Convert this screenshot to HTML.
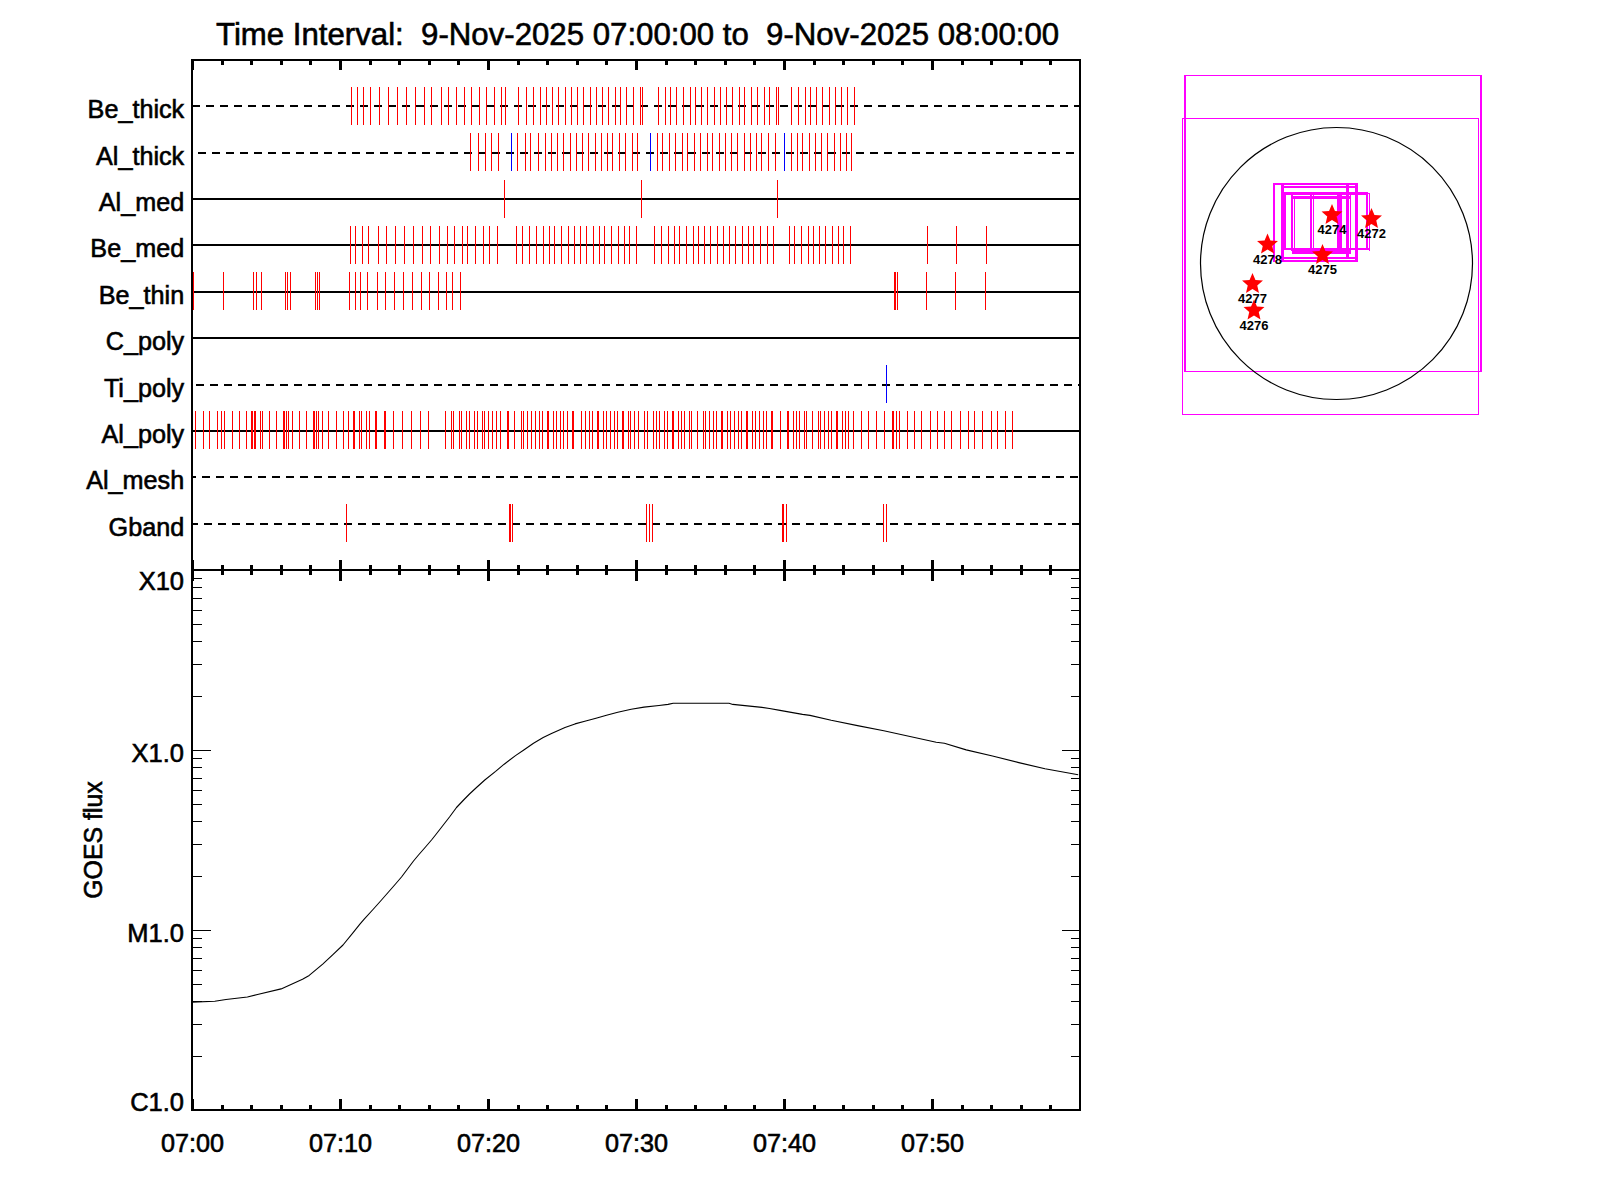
<!DOCTYPE html>
<html><head><meta charset="utf-8"><style>
html,body{margin:0;padding:0;background:#fff;}
svg{display:block;font-family:"Liberation Sans",sans-serif;}
</style></head><body>
<svg width="1600" height="1200" viewBox="0 0 1600 1200">
<rect width="1600" height="1200" fill="#fff"/>
<text x="216" y="45" font-size="31.2" xml:space="preserve" stroke="#000" stroke-width="0.6">Time Interval:  9-Nov-2025 07:00:00 to  9-Nov-2025 08:00:00</text>
<text x="184.2" y="117.6" font-size="25.2" text-anchor="end" stroke="#000" stroke-width="0.6">Be_thick</text>
<line x1="192" y1="106" x2="1080" y2="106" stroke="#000" stroke-width="2" stroke-dasharray="8 6" stroke-dashoffset="0" shape-rendering="crispEdges"/>
<path d="M351.5 87v38 M357.5 87v38 M363.5 87v38 M370.5 87v38 M379.5 87v38 M388.5 87v38 M397.5 87v38 M406.5 87v38 M415.5 87v38 M424.5 87v38 M431.5 87v38 M441.5 87v38 M448.5 87v38 M456.5 87v38 M464.5 87v38 M471.5 87v38 M479.5 87v38 M486.5 87v38 M494.5 87v38 M501.5 87v38 M505.5 87v38 M518.5 87v38 M526.5 87v38 M533.5 87v38 M540.5 87v38 M546.5 87v38 M552.5 87v38 M558.5 87v38 M565.5 87v38 M571.5 87v38 M577.5 87v38 M583.5 87v38 M590.5 87v38 M596.5 87v38 M602.5 87v38 M608.5 87v38 M615.5 87v38 M620.5 87v38 M626.5 87v38 M633.5 87v38 M640.5 87v38 M642.5 87v38 M658.5 87v38 M665.5 87v38 M670.5 87v38 M676.5 87v38 M683.5 87v38 M690.5 87v38 M695.5 87v38 M701.5 87v38 M707.5 87v38 M714.5 87v38 M720.5 87v38 M726.5 87v38 M732.5 87v38 M739.5 87v38 M744.5 87v38 M751.5 87v38 M757.5 87v38 M764.5 87v38 M769.5 87v38 M776.5 87v38 M778.5 87v38 M791.5 87v38 M798.5 87v38 M805.5 87v38 M810.5 87v38 M816.5 87v38 M822.5 87v38 M829.5 87v38 M835.5 87v38 M841.5 87v38 M847.5 87v38 M854.5 87v38" stroke="#f00" stroke-width="1" shape-rendering="crispEdges"/>
<text x="184.2" y="164.6" font-size="25.2" text-anchor="end" stroke="#000" stroke-width="0.6">Al_thick</text>
<line x1="192" y1="153" x2="1080" y2="153" stroke="#000" stroke-width="2" stroke-dasharray="8 6" stroke-dashoffset="8" shape-rendering="crispEdges"/>
<path d="M470.5 133v38 M478.5 133v38 M485.5 133v38 M491.5 133v38 M498.5 133v38 M517.5 133v38 M525.5 133v38 M530.5 133v38 M538.5 133v38 M545.5 133v38 M551.5 133v38 M557.5 133v38 M563.5 133v38 M570.5 133v38 M576.5 133v38 M582.5 133v38 M588.5 133v38 M595.5 133v38 M601.5 133v38 M607.5 133v38 M612.5 133v38 M619.5 133v38 M625.5 133v38 M632.5 133v38 M637.5 133v38 M657.5 133v38 M662.5 133v38 M669.5 133v38 M675.5 133v38 M682.5 133v38 M687.5 133v38 M694.5 133v38 M700.5 133v38 M707.5 133v38 M712.5 133v38 M719.5 133v38 M725.5 133v38 M731.5 133v38 M737.5 133v38 M744.5 133v38 M750.5 133v38 M756.5 133v38 M761.5 133v38 M768.5 133v38 M775.5 133v38 M791.5 133v38 M797.5 133v38 M802.5 133v38 M809.5 133v38 M815.5 133v38 M821.5 133v38 M827.5 133v38 M834.5 133v38 M840.5 133v38 M846.5 133v38 M851.5 133v38" stroke="#f00" stroke-width="1" shape-rendering="crispEdges"/>
<path d="M511.5 133v38 M650.5 133v38 M784.5 133v38" stroke="#00f" stroke-width="1" shape-rendering="crispEdges"/>
<text x="184.2" y="210.6" font-size="25.2" text-anchor="end" stroke="#000" stroke-width="0.6">Al_med</text>
<line x1="192" y1="199" x2="1080" y2="199" stroke="#000" stroke-width="2" shape-rendering="crispEdges"/>
<path d="M504.5 180v38 M641.5 180v38 M777.5 180v38" stroke="#f00" stroke-width="1" shape-rendering="crispEdges"/>
<text x="184.2" y="256.6" font-size="25.2" text-anchor="end" stroke="#000" stroke-width="0.6">Be_med</text>
<line x1="192" y1="245" x2="1080" y2="245" stroke="#000" stroke-width="2" shape-rendering="crispEdges"/>
<path d="M350.5 226v38 M355.5 226v38 M362.5 226v38 M368.5 226v38 M378.5 226v38 M386.5 226v38 M395.5 226v38 M404.5 226v38 M413.5 226v38 M422.5 226v38 M430.5 226v38 M439.5 226v38 M447.5 226v38 M454.5 226v38 M462.5 226v38 M467.5 226v38 M475.5 226v38 M483.5 226v38 M489.5 226v38 M497.5 226v38 M516.5 226v38 M522.5 226v38 M529.5 226v38 M536.5 226v38 M543.5 226v38 M549.5 226v38 M554.5 226v38 M561.5 226v38 M568.5 226v38 M574.5 226v38 M580.5 226v38 M586.5 226v38 M593.5 226v38 M599.5 226v38 M604.5 226v38 M611.5 226v38 M618.5 226v38 M624.5 226v38 M629.5 226v38 M636.5 226v38 M654.5 226v38 M661.5 226v38 M668.5 226v38 M674.5 226v38 M679.5 226v38 M686.5 226v38 M693.5 226v38 M698.5 226v38 M704.5 226v38 M710.5 226v38 M717.5 226v38 M723.5 226v38 M729.5 226v38 M735.5 226v38 M742.5 226v38 M748.5 226v38 M753.5 226v38 M760.5 226v38 M767.5 226v38 M773.5 226v38 M789.5 226v38 M794.5 226v38 M801.5 226v38 M808.5 226v38 M813.5 226v38 M819.5 226v38 M825.5 226v38 M832.5 226v38 M838.5 226v38 M843.5 226v38 M850.5 226v38 M927.5 226v38 M956.5 226v38 M986.5 226v38" stroke="#f00" stroke-width="1" shape-rendering="crispEdges"/>
<text x="184.2" y="303.6" font-size="25.2" text-anchor="end" stroke="#000" stroke-width="0.6">Be_thin</text>
<line x1="192" y1="292" x2="1080" y2="292" stroke="#000" stroke-width="2" shape-rendering="crispEdges"/>
<path d="M193.5 272v38 M223.5 272v38 M253.5 272v38 M256.5 272v38 M261.5 272v38 M285.5 272v38 M287.5 272v38 M290.5 272v38 M315.5 272v38 M317.5 272v38 M319.5 272v38 M349.5 272v38 M355.5 272v38 M360.5 272v38 M367.5 272v38 M377.5 272v38 M385.5 272v38 M394.5 272v38 M403.5 272v38 M412.5 272v38 M421.5 272v38 M429.5 272v38 M438.5 272v38 M446.5 272v38 M452.5 272v38 M460.5 272v38 M894.5 272v38 M895.5 272v38 M897.5 272v38 M926.5 272v38 M955.5 272v38 M985.5 272v38" stroke="#f00" stroke-width="1" shape-rendering="crispEdges"/>
<text x="184.2" y="349.6" font-size="25.2" text-anchor="end" stroke="#000" stroke-width="0.6">C_poly</text>
<line x1="192" y1="338" x2="1080" y2="338" stroke="#000" stroke-width="2" shape-rendering="crispEdges"/>
<text x="184.2" y="396.6" font-size="25.2" text-anchor="end" stroke="#000" stroke-width="0.6">Ti_poly</text>
<line x1="192" y1="385" x2="1080" y2="385" stroke="#000" stroke-width="2" stroke-dasharray="8 6" stroke-dashoffset="10" shape-rendering="crispEdges"/>
<path d="M886.5 365v38" stroke="#00f" stroke-width="1" shape-rendering="crispEdges"/>
<text x="184.2" y="442.6" font-size="25.2" text-anchor="end" stroke="#000" stroke-width="0.6">Al_poly</text>
<line x1="192" y1="431" x2="1080" y2="431" stroke="#000" stroke-width="2" shape-rendering="crispEdges"/>
<path d="M195.5 411v38 M203.5 411v38 M209.5 411v38 M217.5 411v38 M221.5 411v38 M224.5 411v38 M232.5 411v38 M239.5 411v38 M246.5 411v38 M251.5 411v38 M252.5 411v38 M254.5 411v38 M255.5 411v38 M260.5 411v38 M262.5 411v38 M269.5 411v38 M276.5 411v38 M283.5 411v38 M284.5 411v38 M286.5 411v38 M288.5 411v38 M292.5 411v38 M299.5 411v38 M306.5 411v38 M313.5 411v38 M314.5 411v38 M316.5 411v38 M318.5 411v38 M322.5 411v38 M328.5 411v38 M336.5 411v38 M343.5 411v38 M348.5 411v38 M353.5 411v38 M354.5 411v38 M359.5 411v38 M361.5 411v38 M366.5 411v38 M369.5 411v38 M375.5 411v38 M376.5 411v38 M384.5 411v38 M385.5 411v38 M393.5 411v38 M402.5 411v38 M411.5 411v38 M420.5 411v38 M428.5 411v38 M445.5 411v38 M451.5 411v38 M453.5 411v38 M459.5 411v38 M461.5 411v38 M466.5 411v38 M469.5 411v38 M474.5 411v38 M477.5 411v38 M482.5 411v38 M484.5 411v38 M488.5 411v38 M492.5 411v38 M496.5 411v38 M500.5 411v38 M507.5 411v38 M508.5 411v38 M514.5 411v38 M521.5 411v38 M523.5 411v38 M527.5 411v38 M531.5 411v38 M535.5 411v38 M539.5 411v38 M542.5 411v38 M547.5 411v38 M548.5 411v38 M553.5 411v38 M556.5 411v38 M560.5 411v38 M563.5 411v38 M567.5 411v38 M572.5 411v38 M573.5 411v38 M581.5 411v38 M585.5 411v38 M589.5 411v38 M592.5 411v38 M597.5 411v38 M598.5 411v38 M603.5 411v38 M606.5 411v38 M610.5 411v38 M614.5 411v38 M617.5 411v38 M622.5 411v38 M623.5 411v38 M628.5 411v38 M630.5 411v38 M634.5 411v38 M638.5 411v38 M644.5 411v38 M647.5 411v38 M653.5 411v38 M656.5 411v38 M659.5 411v38 M664.5 411v38 M667.5 411v38 M672.5 411v38 M673.5 411v38 M678.5 411v38 M681.5 411v38 M684.5 411v38 M689.5 411v38 M691.5 411v38 M697.5 411v38 M703.5 411v38 M705.5 411v38 M709.5 411v38 M713.5 411v38 M716.5 411v38 M721.5 411v38 M722.5 411v38 M727.5 411v38 M730.5 411v38 M734.5 411v38 M738.5 411v38 M741.5 411v38 M746.5 411v38 M747.5 411v38 M752.5 411v38 M755.5 411v38 M759.5 411v38 M763.5 411v38 M766.5 411v38 M771.5 411v38 M772.5 411v38 M780.5 411v38 M787.5 411v38 M788.5 411v38 M793.5 411v38 M796.5 411v38 M799.5 411v38 M804.5 411v38 M806.5 411v38 M812.5 411v38 M818.5 411v38 M820.5 411v38 M824.5 411v38 M828.5 411v38 M831.5 411v38 M836.5 411v38 M837.5 411v38 M842.5 411v38 M845.5 411v38 M848.5 411v38 M853.5 411v38 M861.5 411v38 M868.5 411v38 M876.5 411v38 M884.5 411v38 M892.5 411v38 M893.5 411v38 M896.5 411v38 M899.5 411v38 M907.5 411v38 M914.5 411v38 M921.5 411v38 M930.5 411v38 M937.5 411v38 M944.5 411v38 M951.5 411v38 M960.5 411v38 M968.5 411v38 M974.5 411v38 M982.5 411v38 M991.5 411v38 M997.5 411v38 M1005.5 411v38 M1012.5 411v38" stroke="#f00" stroke-width="1" shape-rendering="crispEdges"/>
<text x="184.2" y="488.6" font-size="25.2" text-anchor="end" stroke="#000" stroke-width="0.6">Al_mesh</text>
<line x1="192" y1="477" x2="1080" y2="477" stroke="#000" stroke-width="2" stroke-dasharray="8 6" stroke-dashoffset="4" shape-rendering="crispEdges"/>
<text x="184.2" y="535.6" font-size="25.2" text-anchor="end" stroke="#000" stroke-width="0.6">Gband</text>
<line x1="192" y1="524" x2="1080" y2="524" stroke="#000" stroke-width="2" stroke-dasharray="8 6" stroke-dashoffset="2" shape-rendering="crispEdges"/>
<path d="M346.5 504v38 M509.5 504v38 M510.5 504v38 M512.5 504v38 M646.5 504v38 M649.5 504v38 M652.5 504v38 M782.5 504v38 M783.5 504v38 M786.5 504v38 M883.5 504v38 M886.5 504v38" stroke="#f00" stroke-width="1" shape-rendering="crispEdges"/>
<g shape-rendering="crispEdges" stroke="#000" stroke-width="2" fill="none">
<rect x="192" y="60" width="888" height="1050"/>
<line x1="192" y1="570" x2="1080" y2="570"/>
</g>
<g fill="#000" shape-rendering="crispEdges">
<rect x="192" y="59" width="2" height="11"/><rect x="192" y="560" width="2" height="21"/><rect x="192" y="1099" width="2" height="12"/>
<rect x="221" y="59" width="3" height="6"/><rect x="221" y="565" width="3" height="10"/><rect x="221" y="1105" width="3" height="6"/>
<rect x="250" y="59" width="3" height="6"/><rect x="250" y="565" width="3" height="10"/><rect x="250" y="1105" width="3" height="6"/>
<rect x="280" y="59" width="3" height="6"/><rect x="280" y="565" width="3" height="10"/><rect x="280" y="1105" width="3" height="6"/>
<rect x="309" y="59" width="3" height="6"/><rect x="309" y="565" width="3" height="10"/><rect x="309" y="1105" width="3" height="6"/>
<rect x="339" y="59" width="3" height="11"/><rect x="339" y="560" width="3" height="21"/><rect x="339" y="1099" width="3" height="12"/>
<rect x="369" y="59" width="3" height="6"/><rect x="369" y="565" width="3" height="10"/><rect x="369" y="1105" width="3" height="6"/>
<rect x="398" y="59" width="3" height="6"/><rect x="398" y="565" width="3" height="10"/><rect x="398" y="1105" width="3" height="6"/>
<rect x="428" y="59" width="3" height="6"/><rect x="428" y="565" width="3" height="10"/><rect x="428" y="1105" width="3" height="6"/>
<rect x="457" y="59" width="3" height="6"/><rect x="457" y="565" width="3" height="10"/><rect x="457" y="1105" width="3" height="6"/>
<rect x="487" y="59" width="3" height="11"/><rect x="487" y="560" width="3" height="21"/><rect x="487" y="1099" width="3" height="12"/>
<rect x="517" y="59" width="3" height="6"/><rect x="517" y="565" width="3" height="10"/><rect x="517" y="1105" width="3" height="6"/>
<rect x="546" y="59" width="3" height="6"/><rect x="546" y="565" width="3" height="10"/><rect x="546" y="1105" width="3" height="6"/>
<rect x="576" y="59" width="3" height="6"/><rect x="576" y="565" width="3" height="10"/><rect x="576" y="1105" width="3" height="6"/>
<rect x="605" y="59" width="3" height="6"/><rect x="605" y="565" width="3" height="10"/><rect x="605" y="1105" width="3" height="6"/>
<rect x="635" y="59" width="3" height="11"/><rect x="635" y="560" width="3" height="21"/><rect x="635" y="1099" width="3" height="12"/>
<rect x="665" y="59" width="3" height="6"/><rect x="665" y="565" width="3" height="10"/><rect x="665" y="1105" width="3" height="6"/>
<rect x="694" y="59" width="3" height="6"/><rect x="694" y="565" width="3" height="10"/><rect x="694" y="1105" width="3" height="6"/>
<rect x="724" y="59" width="3" height="6"/><rect x="724" y="565" width="3" height="10"/><rect x="724" y="1105" width="3" height="6"/>
<rect x="753" y="59" width="3" height="6"/><rect x="753" y="565" width="3" height="10"/><rect x="753" y="1105" width="3" height="6"/>
<rect x="783" y="59" width="3" height="11"/><rect x="783" y="560" width="3" height="21"/><rect x="783" y="1099" width="3" height="12"/>
<rect x="813" y="59" width="3" height="6"/><rect x="813" y="565" width="3" height="10"/><rect x="813" y="1105" width="3" height="6"/>
<rect x="842" y="59" width="3" height="6"/><rect x="842" y="565" width="3" height="10"/><rect x="842" y="1105" width="3" height="6"/>
<rect x="872" y="59" width="3" height="6"/><rect x="872" y="565" width="3" height="10"/><rect x="872" y="1105" width="3" height="6"/>
<rect x="901" y="59" width="3" height="6"/><rect x="901" y="565" width="3" height="10"/><rect x="901" y="1105" width="3" height="6"/>
<rect x="931" y="59" width="3" height="11"/><rect x="931" y="560" width="3" height="21"/><rect x="931" y="1099" width="3" height="12"/>
<rect x="961" y="59" width="3" height="6"/><rect x="961" y="565" width="3" height="10"/><rect x="961" y="1105" width="3" height="6"/>
<rect x="990" y="59" width="3" height="6"/><rect x="990" y="565" width="3" height="10"/><rect x="990" y="1105" width="3" height="6"/>
<rect x="1020" y="59" width="3" height="6"/><rect x="1020" y="565" width="3" height="10"/><rect x="1020" y="1105" width="3" height="6"/>
<rect x="1049" y="59" width="3" height="6"/><rect x="1049" y="565" width="3" height="10"/><rect x="1049" y="1105" width="3" height="6"/>
</g>
<g stroke="#000" stroke-width="1" shape-rendering="crispEdges">
<line x1="193" y1="750.5" x2="211" y2="750.5"/>
<line x1="1079" y1="750.5" x2="1062" y2="750.5"/>
<line x1="193" y1="696.5" x2="202" y2="696.5"/>
<line x1="1079" y1="696.5" x2="1071" y2="696.5"/>
<line x1="193" y1="664.5" x2="202" y2="664.5"/>
<line x1="1079" y1="664.5" x2="1071" y2="664.5"/>
<line x1="193" y1="641.5" x2="202" y2="641.5"/>
<line x1="1079" y1="641.5" x2="1071" y2="641.5"/>
<line x1="193" y1="624.5" x2="202" y2="624.5"/>
<line x1="1079" y1="624.5" x2="1071" y2="624.5"/>
<line x1="193" y1="610.5" x2="202" y2="610.5"/>
<line x1="1079" y1="610.5" x2="1071" y2="610.5"/>
<line x1="193" y1="598.5" x2="202" y2="598.5"/>
<line x1="1079" y1="598.5" x2="1071" y2="598.5"/>
<line x1="193" y1="587.5" x2="202" y2="587.5"/>
<line x1="1079" y1="587.5" x2="1071" y2="587.5"/>
<line x1="193" y1="578.5" x2="202" y2="578.5"/>
<line x1="1079" y1="578.5" x2="1071" y2="578.5"/>
<line x1="193" y1="930.5" x2="211" y2="930.5"/>
<line x1="1079" y1="930.5" x2="1062" y2="930.5"/>
<line x1="193" y1="876.5" x2="202" y2="876.5"/>
<line x1="1079" y1="876.5" x2="1071" y2="876.5"/>
<line x1="193" y1="844.5" x2="202" y2="844.5"/>
<line x1="1079" y1="844.5" x2="1071" y2="844.5"/>
<line x1="193" y1="821.5" x2="202" y2="821.5"/>
<line x1="1079" y1="821.5" x2="1071" y2="821.5"/>
<line x1="193" y1="804.5" x2="202" y2="804.5"/>
<line x1="1079" y1="804.5" x2="1071" y2="804.5"/>
<line x1="193" y1="790.5" x2="202" y2="790.5"/>
<line x1="1079" y1="790.5" x2="1071" y2="790.5"/>
<line x1="193" y1="778.5" x2="202" y2="778.5"/>
<line x1="1079" y1="778.5" x2="1071" y2="778.5"/>
<line x1="193" y1="767.5" x2="202" y2="767.5"/>
<line x1="1079" y1="767.5" x2="1071" y2="767.5"/>
<line x1="193" y1="758.5" x2="202" y2="758.5"/>
<line x1="1079" y1="758.5" x2="1071" y2="758.5"/>
<line x1="193" y1="1056.5" x2="202" y2="1056.5"/>
<line x1="1079" y1="1056.5" x2="1071" y2="1056.5"/>
<line x1="193" y1="1024.5" x2="202" y2="1024.5"/>
<line x1="1079" y1="1024.5" x2="1071" y2="1024.5"/>
<line x1="193" y1="1001.5" x2="202" y2="1001.5"/>
<line x1="1079" y1="1001.5" x2="1071" y2="1001.5"/>
<line x1="193" y1="984.5" x2="202" y2="984.5"/>
<line x1="1079" y1="984.5" x2="1071" y2="984.5"/>
<line x1="193" y1="970.5" x2="202" y2="970.5"/>
<line x1="1079" y1="970.5" x2="1071" y2="970.5"/>
<line x1="193" y1="958.5" x2="202" y2="958.5"/>
<line x1="1079" y1="958.5" x2="1071" y2="958.5"/>
<line x1="193" y1="947.5" x2="202" y2="947.5"/>
<line x1="1079" y1="947.5" x2="1071" y2="947.5"/>
<line x1="193" y1="938.5" x2="202" y2="938.5"/>
<line x1="1079" y1="938.5" x2="1071" y2="938.5"/>
</g>
<text x="184" y="590" font-size="25.5" text-anchor="end" stroke="#000" stroke-width="0.6">X10</text>
<text x="184" y="762" font-size="25.5" text-anchor="end" stroke="#000" stroke-width="0.6">X1.0</text>
<text x="184" y="942" font-size="25.5" text-anchor="end" stroke="#000" stroke-width="0.6">M1.0</text>
<text x="184" y="1111" font-size="25.5" text-anchor="end" stroke="#000" stroke-width="0.6">C1.0</text>
<text x="192.5" y="1152" font-size="25.2" text-anchor="middle" stroke="#000" stroke-width="0.6">07:00</text>
<text x="340.5" y="1152" font-size="25.2" text-anchor="middle" stroke="#000" stroke-width="0.6">07:10</text>
<text x="488.5" y="1152" font-size="25.2" text-anchor="middle" stroke="#000" stroke-width="0.6">07:20</text>
<text x="636.5" y="1152" font-size="25.2" text-anchor="middle" stroke="#000" stroke-width="0.6">07:30</text>
<text x="784.5" y="1152" font-size="25.2" text-anchor="middle" stroke="#000" stroke-width="0.6">07:40</text>
<text x="932.5" y="1152" font-size="25.2" text-anchor="middle" stroke="#000" stroke-width="0.6">07:50</text>
<text transform="translate(101.5,840) rotate(-90)" font-size="24.9" text-anchor="middle" stroke="#000" stroke-width="0.6">GOES flux</text>
<polyline fill="none" stroke="#000" stroke-width="1.1" stroke-linejoin="round" points="192.2,1002.1 214.8,1001.2 226.0,999.5 247.4,997.0 257.5,994.5 281.1,988.9 302.5,979.3 309.2,975.4 322.7,964.1 332.9,954.6 343.0,945.0 353.1,932.6 359.9,924.2 364.2,919.2 373.0,909.5 381.5,900.0 388.5,892.0 395.5,884.0 401.5,877.0 407.5,869.0 413.5,861.0 418.5,855.0 425.5,847.0 431.5,840.0 435.5,835.0 442.5,826.0 449.5,817.0 456.5,807.5 464.1,799.5 469.5,794.0 476.5,787.5 484.8,780.0 495.6,771.4 504.2,764.2 515.5,755.6 523.8,750.0 533.5,743.2 543.2,737.6 551.5,733.5 565.0,727.5 575.0,723.9 584.8,721.2 596.0,718.2 606.5,715.2 617.8,712.2 631.2,709.2 644.0,707.1 659.0,705.5 668.0,704.4 673.2,703.2 729.0,703.2 732.8,704.4 742.5,705.4 752.2,706.4 762.0,707.4 769.5,708.5 780.0,710.4 791.2,712.4 802.5,714.4 810.0,715.4 831.2,720.3 857.5,725.6 883.8,730.8 910.0,736.5 936.2,742.2 944.4,743.3 966.2,749.9 992.5,756.0 1018.8,762.6 1045.0,768.7 1078.2,774.8"/>
<g shape-rendering="crispEdges">
<rect x="1184" y="75" width="297" height="1" fill="#ff00ff"/>
<rect x="1184" y="371" width="297" height="1" fill="#ff00ff"/>
<rect x="1184" y="75" width="1" height="297" fill="#ff00ff"/>
<rect x="1480" y="75" width="1" height="297" fill="#ff00ff"/>
<rect x="1185" y="75" width="297" height="1" fill="#ff00ff"/>
<rect x="1185" y="371" width="297" height="1" fill="#ff00ff"/>
<rect x="1185" y="75" width="1" height="297" fill="#ff00ff"/>
<rect x="1481" y="75" width="1" height="297" fill="#ff00ff"/>
<rect x="1182" y="118" width="297" height="1" fill="#ff00ff"/>
<rect x="1182" y="414" width="297" height="1" fill="#ff00ff"/>
<rect x="1182" y="118" width="1" height="297" fill="#ff00ff"/>
<rect x="1478" y="118" width="1" height="297" fill="#ff00ff"/>
<rect x="1273" y="183" width="2" height="79" fill="#ff00ff"/>
<rect x="1281" y="183" width="3" height="79" fill="#ff00ff"/>
<rect x="1284" y="192" width="2" height="57" fill="#ff00ff"/>
<rect x="1291" y="195" width="2" height="56" fill="#ff00ff"/>
<rect x="1294" y="198" width="1" height="53" fill="#ff00ff"/>
<rect x="1310" y="192" width="2" height="59" fill="#ff00ff"/>
<rect x="1313" y="193" width="1" height="58" fill="#ff00ff"/>
<rect x="1337" y="192" width="5" height="62" fill="#ff00ff"/>
<rect x="1346" y="183" width="3" height="75" fill="#ff00ff"/>
<rect x="1350" y="193" width="1" height="61" fill="#ff00ff"/>
<rect x="1355" y="183" width="3" height="79" fill="#ff00ff"/>
<rect x="1366" y="192" width="2" height="58" fill="#ff00ff"/>
<rect x="1369" y="193" width="1" height="58" fill="#ff00ff"/>
<rect x="1273" y="183" width="85" height="2" fill="#ff00ff"/>
<rect x="1284" y="186" width="72" height="2" fill="#ff00ff"/>
<rect x="1284" y="192" width="84" height="3" fill="#ff00ff"/>
<rect x="1284" y="193" width="86" height="1" fill="#ff00ff"/>
<rect x="1291" y="196" width="60" height="3" fill="#ff00ff"/>
<rect x="1284" y="248" width="86" height="2" fill="#ff00ff"/>
<rect x="1292" y="250" width="59" height="4" fill="#ff00ff"/>
<rect x="1284" y="257" width="74" height="2" fill="#ff00ff"/>
<rect x="1283" y="260" width="75" height="2" fill="#ff00ff"/>
</g>
<circle cx="1336.5" cy="263.5" r="136" fill="none" stroke="#000" stroke-width="1.2"/>
<polygon fill="#ff0000" points="1371.50,208.00 1374.44,214.95 1381.96,215.60 1376.26,220.55 1377.97,227.90 1371.50,224.00 1365.03,227.90 1366.74,220.55 1361.04,215.60 1368.56,214.95"/>
<polygon fill="#ff0000" points="1332.00,204.00 1334.94,210.95 1342.46,211.60 1336.76,216.55 1338.47,223.90 1332.00,220.00 1325.53,223.90 1327.24,216.55 1321.54,211.60 1329.06,210.95"/>
<polygon fill="#ff0000" points="1322.50,244.00 1325.44,250.95 1332.96,251.60 1327.26,256.55 1328.97,263.90 1322.50,260.00 1316.03,263.90 1317.74,256.55 1312.04,251.60 1319.56,250.95"/>
<polygon fill="#ff0000" points="1267.50,233.50 1270.44,240.45 1277.96,241.10 1272.26,246.05 1273.97,253.40 1267.50,249.50 1261.03,253.40 1262.74,246.05 1257.04,241.10 1264.56,240.45"/>
<polygon fill="#ff0000" points="1252.50,273.00 1255.44,279.95 1262.96,280.60 1257.26,285.55 1258.97,292.90 1252.50,289.00 1246.03,292.90 1247.74,285.55 1242.04,280.60 1249.56,279.95"/>
<polygon fill="#ff0000" points="1254.00,299.50 1256.94,306.45 1264.46,307.10 1258.76,312.05 1260.47,319.40 1254.00,315.50 1247.53,319.40 1249.24,312.05 1243.54,307.10 1251.06,306.45"/>
<text x="1371.5" y="238" font-size="13" font-weight="bold" text-anchor="middle">4272</text>
<text x="1332" y="234" font-size="13" font-weight="bold" text-anchor="middle">4274</text>
<text x="1322.5" y="274" font-size="13" font-weight="bold" text-anchor="middle">4275</text>
<text x="1267.5" y="263.5" font-size="13" font-weight="bold" text-anchor="middle">4278</text>
<text x="1252.5" y="303" font-size="13" font-weight="bold" text-anchor="middle">4277</text>
<text x="1254" y="329.5" font-size="13" font-weight="bold" text-anchor="middle">4276</text>
</svg></body></html>
